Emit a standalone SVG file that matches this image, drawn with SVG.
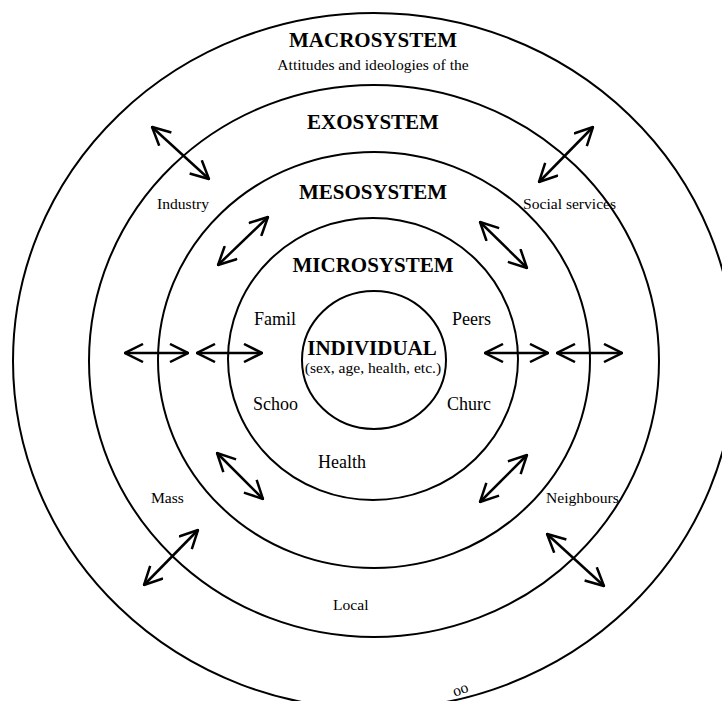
<svg xmlns="http://www.w3.org/2000/svg" width="722" height="701" viewBox="0 0 722 701">
  <style>
    .ring { fill: none; stroke: #000; stroke-width: 2; }
    .arrow { fill: none; stroke: #000; stroke-width: 2.5; marker-start: url(#head); marker-end: url(#head); }
    .title { font-family: "Liberation Serif", "Times New Roman", serif; font-weight: bold; font-size: 21px; text-anchor: middle; fill: #000; }
    .label { font-family: "Liberation Serif", "Times New Roman", serif; font-size: 15.6px; fill: #000; }
    .inner { font-family: "Liberation Serif", "Times New Roman", serif; font-size: 18px; fill: #000; }
  </style>
  <defs>
    <marker id="head" viewBox="0 0 20 20" refX="19" refY="10" markerWidth="20" markerHeight="20" markerUnits="userSpaceOnUse" orient="auto-start-reverse">
      <path d="M1,1 L19,10 L1,19" fill="none" stroke="#000" stroke-width="2.5"/>
    </marker>
  </defs>
  <rect width="722" height="701" fill="#fff"/>

  <!-- nested system rings -->
  <g id="macrosystem">
    <ellipse class="ring" cx="374" cy="361" rx="361" ry="348"/>
    <text class="title" x="373" y="47">MACROSYSTEM</text>
    <text class="label" x="373" y="70" text-anchor="middle">Attitudes and ideologies of the</text>
    <text class="label" x="462" y="694" text-anchor="middle" font-size="15" transform="rotate(-20 462 694)">oo</text>
  </g>
  <g id="exosystem">
    <ellipse class="ring" cx="374" cy="361" rx="285" ry="276"/>
    <text class="title" x="373" y="129">EXOSYSTEM</text>
    <text class="label" x="157" y="209">Industry</text>
    <text class="label" x="523" y="209">Social services</text>
    <text class="label" x="151" y="503">Mass</text>
    <text class="label" x="546" y="503">Neighbours</text>
    <text class="label" x="333" y="610">Local</text>
  </g>
  <g id="mesosystem">
    <ellipse class="ring" cx="374" cy="360" rx="216" ry="208"/>
    <text class="title" x="373" y="199">MESOSYSTEM</text>
  </g>
  <g id="microsystem">
    <ellipse class="ring" cx="373" cy="359" rx="145" ry="141"/>
    <text class="title" x="373" y="272">MICROSYSTEM</text>
    <text class="inner" x="254" y="325">Famil</text>
    <text class="inner" x="452" y="325">Peers</text>
    <text class="inner" x="253" y="410">Schoo</text>
    <text class="inner" x="447" y="410">Churc</text>
    <text class="inner" x="318" y="468">Health</text>
  </g>
  <g id="individual">
    <ellipse class="ring" cx="374" cy="360" rx="72" ry="69"/>
    <text class="title" x="372" y="355">INDIVIDUAL</text>
    <text class="label" x="373" y="373" text-anchor="middle">(sex, age, health, etc.)</text>
  </g>

  <!-- two-way interaction arrows -->
  <g id="connectors">
    <line class="arrow" x1="125" y1="353" x2="188" y2="353"/>
    <line class="arrow" x1="197" y1="353" x2="262" y2="353"/>
    <line class="arrow" x1="485" y1="353" x2="548" y2="353"/>
    <line class="arrow" x1="557" y1="353" x2="622" y2="353"/>
    <line class="arrow" x1="152" y1="127" x2="209" y2="179"/>
    <line class="arrow" x1="218" y1="265" x2="268" y2="217"/>
    <line class="arrow" x1="593" y1="127" x2="539" y2="182"/>
    <line class="arrow" x1="480" y1="222" x2="527" y2="268"/>
    <line class="arrow" x1="217" y1="453" x2="263" y2="499"/>
    <line class="arrow" x1="198" y1="530" x2="144" y2="585"/>
    <line class="arrow" x1="527" y1="455" x2="480" y2="502"/>
    <line class="arrow" x1="547" y1="534" x2="604" y2="586"/>
  </g>
</svg>
